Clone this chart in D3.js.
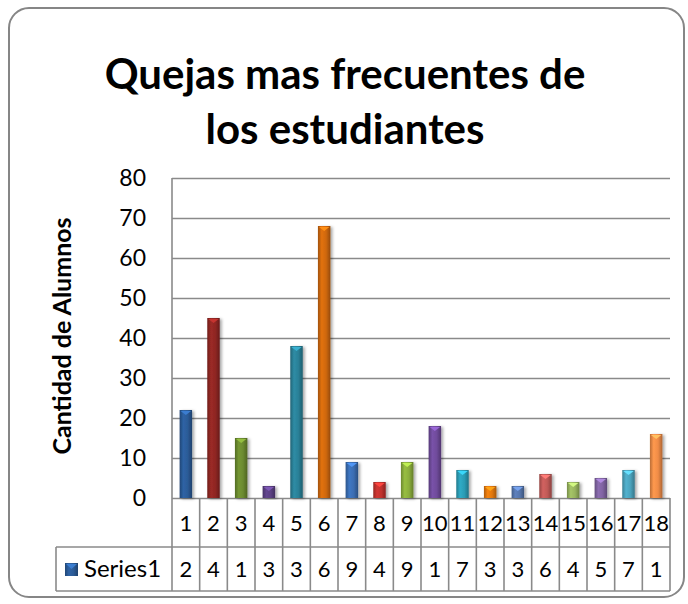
<!DOCTYPE html>
<html>
<head>
<meta charset="utf-8">
<script src="https://cdn.jsdelivr.net/npm/d3@7"></script>
<style>
  body { margin: 0; background: #fff; }
  svg text { font-family: Lato, "Open Sans", sans-serif; fill: #000; }
</style>
</head>
<body>
<svg id="chart" width="688" height="604"></svg>
<script>
// chart data
var titleLines = ["Quejas mas frecuentes de", "los estudiantes"];
var yTitle = "Cantidad de Alumnos";
var seriesName = "Series1";
var categories = ["1","2","3","4","5","6","7","8","9","10","11","12","13","14","15","16","17","18"];
var values = [22, 45, 15, 3, 38, 68, 9, 4, 9, 18, 7, 3, 3, 6, 4, 5, 7, 16];
var yTicks = [0, 10, 20, 30, 40, 50, 60, 70, 80];
// the data table cells are too narrow, so only the first digit shows
var tableText = ["2","4","1","3","3","6","9","4","9","1","7","3","3","6","4","5","7","1"];
// "vary colors by point", office palette
var barColors = ["#2b5b97", "#8f2623", "#6b8a2f", "#5b4083", "#2a8097", "#cf680f",
                 "#3a6db2", "#c0322e", "#8bae3c", "#6f4b9b", "#2b9cb5", "#e2780f",
                 "#5676ad", "#c05a57", "#98b45e", "#8064a2", "#4ba3bd", "#f08c47"];

var svg = d3.select("#chart");
var plot = {left: 172, right: 670, top: 178, bottom: 498};
var table = {left: 56, row2: 547, bottom: 591};
var lineColor = "#8a8a8a";

// outer frame
svg.append("rect")
  .attr("x", 9).attr("y", 8)
  .attr("width", 675).attr("height", 589)
  .attr("rx", 20).attr("ry", 20)
  .attr("fill", "#fff")
  .attr("stroke", "#868686")
  .attr("stroke-width", 2);

// title
svg.append("text")
  .attr("x", 345).attr("y", 89)
  .attr("text-anchor", "middle")
  .style("font-size", "42px")
  .style("font-weight", "bold")
  .selectAll("tspan")
  .data(titleLines)
  .enter().append("tspan")
  .attr("x", 345)
  .attr("dy", function(d, i) { return i == 0 ? 0 : 55; })
  .text(function(d) { return d; });

// scales
var x = d3.scaleBand()
  .domain(categories)
  .range([plot.left, plot.right])
  .padding(0);

var y = d3.scaleLinear()
  .domain([0, 80])
  .range([plot.bottom, plot.top]);

var barWidth = x.bandwidth() * 0.45;

// gridlines
var grid = svg.append("g")
  .attr("transform", "translate(" + plot.left + ",0)")
  .call(d3.axisLeft(y).tickValues(yTicks).tickSize(-(plot.right - plot.left)).tickFormat(""));
grid.select(".domain").remove();
grid.selectAll(".tick line")
  .attr("stroke", lineColor)
  .attr("stroke-width", 1.6);

// y axis labels
var yAxis = svg.append("g")
  .attr("transform", "translate(" + plot.left + ",0)")
  .call(d3.axisLeft(y).tickValues(yTicks).tickSize(0).tickPadding(26));
yAxis.select(".domain").remove();
yAxis.selectAll("text")
  .style("font-size", "23px")
  .attr("fill", "#000");

// y axis title
svg.append("text")
  .attr("transform", "translate(71," + ((plot.top + plot.bottom) / 2 - 2) + ") rotate(-90)")
  .attr("text-anchor", "middle")
  .style("font-size", "25px")
  .style("font-weight", "bold")
  .text(yTitle);

// data table lines
var tbl = svg.append("g")
  .attr("stroke", lineColor)
  .attr("stroke-width", 1.6)
  .attr("fill", "none");

tbl.append("line")
  .attr("x1", plot.left).attr("x2", plot.left)
  .attr("y1", plot.top).attr("y2", table.bottom);
tbl.append("line")
  .attr("x1", table.left).attr("x2", table.left)
  .attr("y1", table.row2).attr("y2", table.bottom);
tbl.append("line")
  .attr("x1", table.left).attr("x2", plot.right)
  .attr("y1", table.row2).attr("y2", table.row2);
tbl.append("line")
  .attr("x1", table.left).attr("x2", plot.right)
  .attr("y1", table.bottom).attr("y2", table.bottom);
tbl.selectAll(".sep")
  .data(categories)
  .enter().append("line")
  .attr("class", "sep")
  .attr("x1", function(d) { return x(d) + x.bandwidth(); })
  .attr("x2", function(d) { return x(d) + x.bandwidth(); })
  .attr("y1", plot.bottom).attr("y2", table.bottom);

// gradients for the bevelled columns
var defs = svg.append("defs");
barColors.forEach(function(col, i) {
  var c = d3.color(col);
  var g = defs.append("linearGradient")
    .attr("id", "bar" + i)
    .attr("x1", "0%").attr("x2", "100%")
    .attr("y1", "0%").attr("y2", "0%");
  g.append("stop").attr("offset", "0%").attr("stop-color", c.darker(0.7));
  g.append("stop").attr("offset", "30%").attr("stop-color", c.brighter(0.25));
  g.append("stop").attr("offset", "65%").attr("stop-color", c);
  g.append("stop").attr("offset", "100%").attr("stop-color", c.darker(0.9));
});

var shadow = defs.append("filter")
  .attr("id", "shadow")
  .attr("x", "-50%").attr("y", "-10%")
  .attr("width", "200%").attr("height", "120%");
shadow.append("feDropShadow")
  .attr("dx", 2).attr("dy", 1)
  .attr("stdDeviation", 1.5)
  .attr("flood-color", "#000")
  .attr("flood-opacity", 0.35);

// bars
var bars = svg.append("g");
bars.selectAll("rect")
  .data(values)
  .enter().append("rect")
  .attr("x", function(d, i) { return x(categories[i]) + (x.bandwidth() - barWidth) / 2; })
  .attr("y", function(d) { return y(d); })
  .attr("width", barWidth)
  .attr("height", function(d) { return y(0) - y(d); })
  .attr("fill", function(d, i) { return "url(#bar" + i + ")"; })
  .attr("filter", "url(#shadow)");

// bevel highlight on the top of each column
bars.selectAll("path")
  .data(values)
  .enter().append("path")
  .attr("d", function(d, i) {
    var x0 = x(categories[i]) + (x.bandwidth() - barWidth) / 2;
    var t = y(d);
    return "M" + (x0 + 1) + "," + (t + 1) + "L" + (x0 + barWidth - 1) + "," + (t + 1) +
      "L" + (x0 + barWidth / 2) + "," + (t + 5) + "Z";
  })
  .attr("fill", function(d, i) { return d3.color(barColors[i]).brighter(0.9); });

// category labels (first table row)
svg.append("g").selectAll("text")
  .data(categories)
  .enter().append("text")
  .attr("x", function(d) { return x(d) + x.bandwidth() / 2; })
  .attr("y", 523)
  .attr("dy", "0.35em")
  .attr("text-anchor", "middle")
  .style("font-size", "22px")
  .text(function(d) { return d; });

// values row
svg.append("g").selectAll("text")
  .data(tableText)
  .enter().append("text")
  .attr("x", function(d, i) { return x(categories[i]) + x.bandwidth() / 2; })
  .attr("y", 569)
  .attr("dy", "0.35em")
  .attr("text-anchor", "middle")
  .style("font-size", "22px")
  .text(function(d) { return d; });

// legend key + series name
svg.append("rect")
  .attr("x", 65).attr("y", 563)
  .attr("width", 13).attr("height", 13)
  .attr("fill", "url(#bar0)");
svg.append("path")
  .attr("d", "M66,564L77,564L71.5,569Z")
  .attr("fill", d3.color(barColors[0]).brighter(0.9));
svg.append("text")
  .attr("x", 84).attr("y", 569)
  .attr("dy", "0.35em")
  .style("font-size", "24px")
  .text(seriesName);
</script>
</body>
</html>
